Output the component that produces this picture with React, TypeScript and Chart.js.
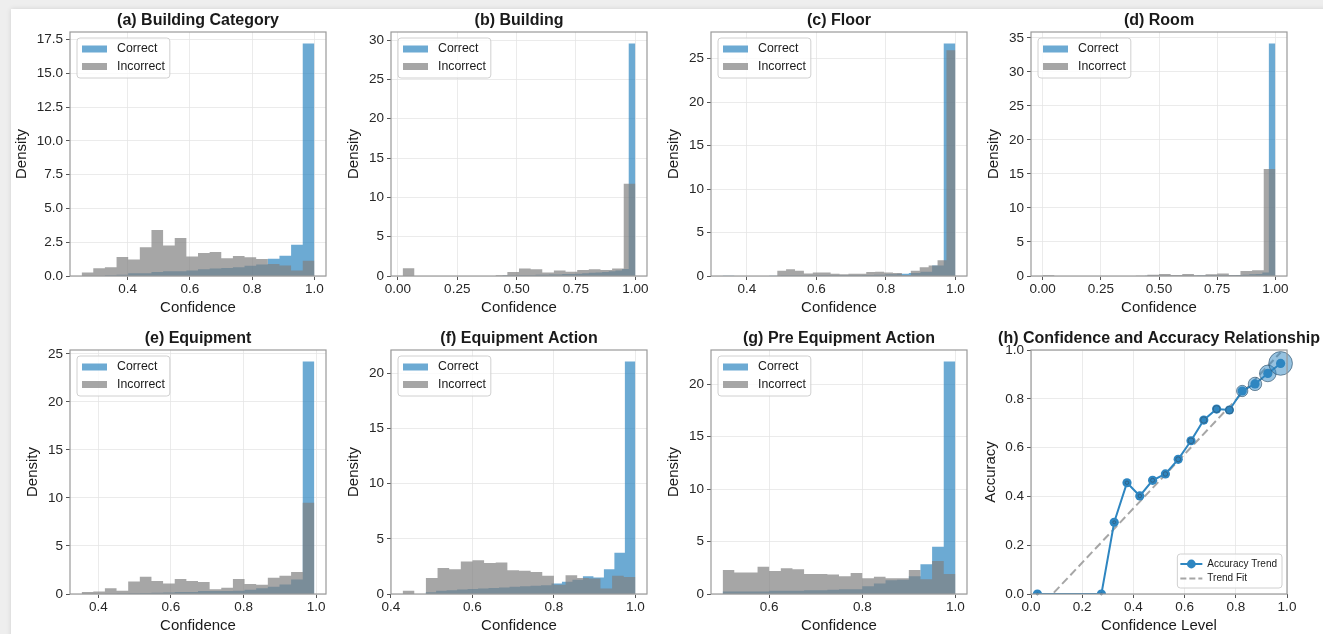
import React, { useEffect, useRef } from 'react';
import { Chart, registerables } from 'chart.js';

Chart.register(...registerables);

const FONT = '"Liberation Sans", Arial, Helvetica, sans-serif';
const TEXT = '#1a1a1a';
const BLUE = 'rgba(46,134,193,0.7)';
const GRAY = 'rgba(128,128,128,0.7)';
const LINE_BLUE = '#2E86C1';

// ---------- (a) Building Category ----------
const aCorrectRange = [0.252, 1.0];
const aCorrect = [0, 0, 0.05, 0.1, 0.2, 0.2, 0.3, 0.35, 0.35, 0.4, 0.5, 0.55, 0.6, 0.65, 0.75, 0.85, 1.28, 1.5, 2.32, 17.2];
const aIncorrectRange = [0.252, 1.0];
const aIncorrect = [0.25, 0.58, 0.65, 1.4, 1.22, 2.12, 3.4, 2.25, 2.82, 1.45, 1.7, 1.78, 1.32, 1.48, 1.38, 1.25, 0.88, 0.78, 0.4, 1.12];

// ---------- (b) Building ----------
const bCorrectRange = [0.44, 1.0];
const bCorrect = [0.05, 0.05, 0.1, 0.1, 0.1, 0.15, 0.15, 0.2, 0.2, 0.25, 0.25, 0.3, 0.35, 0.4, 0.45, 0.5, 0.6, 0.7, 0.9, 29.55];
const bIncorrectRange = [0.02, 1.0];
const bIncorrect = [1.0, 0, 0, 0, 0, 0, 0, 0, 0.1, 0.5, 0.95, 0.85, 0.45, 0.7, 0.55, 0.75, 0.85, 0.75, 0.95, 11.73];

// ---------- (c) Floor ----------
const cCorrectRange = [0.33, 1.0];
const cCorrect = [0.02, 0, 0, 0, 0.02, 0.05, 0.05, 0.05, 0.08, 0.08, 0.1, 0.1, 0.12, 0.15, 0.2, 0.25, 0.35, 0.5, 1.2, 26.72];
const cIncorrectRange = [0.487, 1.0];
const cIncorrect = [0.6, 0.77, 0.6, 0.3, 0.4, 0.4, 0.25, 0.2, 0.25, 0.25, 0.45, 0.5, 0.4, 0.35, 0.1, 0.6, 1.0, 1.2, 1.8, 25.95];

// ---------- (d) Room ----------
const dCorrectRange = [0.44, 1.0];
const dCorrect = [0.02, 0.02, 0.03, 0.03, 0.05, 0.05, 0.05, 0.05, 0.08, 0.08, 0.1, 0.1, 0.1, 0.12, 0.15, 0.2, 0.25, 0.3, 0.5, 34.17];
const dIncorrectRange = [0.0, 1.0];
const dIncorrect = [0.1, 0, 0, 0, 0, 0, 0, 0, 0.05, 0.2, 0.3, 0.15, 0.3, 0.1, 0.25, 0.35, 0.15, 0.75, 0.85, 15.73];

// ---------- (e) Equipment ----------
const eCorrectRange = [0.354, 0.995];
const eCorrect = [0, 0, 0.02, 0.05, 0.08, 0.1, 0.12, 0.15, 0.2, 0.2, 0.3, 0.3, 0.3, 0.35, 0.45, 0.6, 0.75, 1.0, 1.5, 24.19];
const eIncorrectRange = [0.354, 0.995];
const eIncorrect = [0.2, 0.25, 0.6, 0.35, 1.3, 1.8, 1.35, 1.1, 1.55, 1.35, 1.25, 0.5, 0.65, 1.55, 1.05, 0.95, 1.7, 1.9, 2.3, 9.5];

// ---------- (f) Equipment Action ----------
const fCorrectRange = [0.485, 1.0];
const fCorrect = [0.15, 0.3, 0.35, 0.4, 0.45, 0.5, 0.55, 0.6, 0.65, 0.7, 0.75, 0.8, 0.95, 1.1, 1.3, 1.6, 1.5, 2.25, 3.75, 21.07];
const fIncorrectRange = [0.4286, 1.0];
const fIncorrect = [0.3, 0, 1.45, 2.35, 2.25, 2.95, 3.05, 2.8, 2.85, 2.15, 2.1, 2.0, 1.65, 0.85, 1.7, 1.45, 1.4, 0.5, 1.65, 1.55];

// ---------- (g) Pre Equipment Action ----------
const gCorrectRange = [0.5, 1.0];
const gCorrect = [0.25, 0.25, 0.25, 0.25, 0.3, 0.3, 0.3, 0.35, 0.35, 0.4, 0.45, 0.45, 0.75, 1.0, 1.3, 1.35, 1.7, 2.85, 4.5, 22.17];
const gIncorrectRange = [0.5, 1.0];
const gIncorrect = [2.3, 2.05, 2.05, 2.6, 2.2, 2.45, 2.35, 1.9, 1.9, 1.85, 1.7, 2.0, 1.5, 1.65, 1.5, 1.5, 2.3, 1.4, 3.15, 1.9];

// ---------- (h) Confidence and Accuracy Relationship ----------
const hConfidence = [0.025, 0.275, 0.325, 0.375, 0.425, 0.475, 0.525, 0.575, 0.625, 0.675, 0.725, 0.775, 0.825, 0.875, 0.925, 0.975];
const hAccuracy = [0.0, 0.0, 0.294, 0.456, 0.402, 0.466, 0.492, 0.552, 0.628, 0.713, 0.758, 0.754, 0.832, 0.861, 0.904, 0.945];
const hCounts = [1, 1, 2, 3, 3, 4, 5, 6, 8, 10, 12, 14, 32, 45, 69, 140];
const hTrendX = [0.025, 0.975];
const hTrendY = [-0.066, 0.99];

// ---------- tick labels ----------
const ticks01 = [0.4, 0.6, 0.8, 1.0];
const ticksQuarter = [0, 0.25, 0.5, 0.75, 1.0];
const ticksG = [0.6, 0.8, 1.0];
const ticksFifth = [0, 0.2, 0.4, 0.6, 0.8, 1.0];
const yTicksA = [0, 2.5, 5, 7.5, 10, 12.5, 15, 17.5];
const yTicksB = [0, 5, 10, 15, 20, 25, 30];
const yTicksC = [0, 5, 10, 15, 20, 25];
const yTicksD = [0, 5, 10, 15, 20, 25, 30, 35];
const yTicksE = [0, 5, 10, 15, 20, 25];
const yTicksF = [0, 5, 10, 15, 20];
const yTicksG = [0, 5, 10, 15, 20];

// ---------- layout ----------
const COL_LEFT = [70, 391, 711, 1031];
const ROW_TOP = [32, 350];
const PW = 256;
const PH = 244;
const Y_AXIS_W = 60;
const X_AXIS_H = 44;
const PAD_L = 4;
const PAD_TOP = 32;
const PAD_BOTTOM = 2;

const mctx = document.createElement('canvas').getContext('2d') as CanvasRenderingContext2D;
function textWidth(t: string, font: string) {
  mctx.font = font;
  return mctx.measureText(t).width;
}

const TICK_SIZE = 13.5;
const tickFont = { family: FONT, size: TICK_SIZE };

function stepPoints(range: number[], heights: number[]) {
  const n = heights.length;
  const w = (range[1] - range[0]) / n;
  const pts = heights.map((h, i) => ({ x: range[0] + i * w, y: h }));
  pts.push({ x: range[1], y: heights[n - 1] });
  return pts;
}

function yTitlePad(labels: string[]) {
  const maxW = Math.max(...labels.map((l) => textWidth(l, `${TICK_SIZE}px ${FONT}`)));
  return Math.max(0, Y_AXIS_W - 9 - (7 + maxW + 14.7));
}

function roundRect(ctx: CanvasRenderingContext2D, x: number, y: number, w: number, h: number, r: number) {
  ctx.beginPath();
  ctx.moveTo(x + r, y);
  ctx.lineTo(x + w - r, y);
  ctx.arcTo(x + w, y, x + w, y + r, r);
  ctx.lineTo(x + w, y + h - r);
  ctx.arcTo(x + w, y + h, x + w - r, y + h, r);
  ctx.lineTo(x + r, y + h);
  ctx.arcTo(x, y + h, x, y + h - r, r);
  ctx.lineTo(x, y + r);
  ctx.arcTo(x, y, x + r, y, r);
  ctx.closePath();
}

function makeDecor(title: string, kind: 'hist' | 'acc') {
  return {
    id: 'decor',
    afterDatasetsDraw(chart: any) {
      const ctx: CanvasRenderingContext2D = chart.ctx;
      const a = chart.chartArea;
      ctx.save();
      ctx.strokeStyle = '#9a9a9a';
      ctx.lineWidth = 1.2;
      ctx.setLineDash([]);
      ctx.strokeRect(a.left, a.top, a.right - a.left, a.bottom - a.top);

      if (kind === 'hist') {
        ctx.font = `12.3px ${FONT}`;
        const tw = Math.max(ctx.measureText('Correct').width, ctx.measureText('Incorrect').width);
        const bx = a.left + 7;
        const by = a.top + 6;
        const bw = 40 + tw + 5;
        const bh = 40;
        roundRect(ctx, bx, by, bw, bh, 3);
        ctx.fillStyle = 'rgba(255,255,255,0.8)';
        ctx.fill();
        ctx.strokeStyle = '#d0d0d0';
        ctx.lineWidth = 1;
        ctx.stroke();
        const rows = [
          { label: 'Correct', color: BLUE, cy: by + 11 },
          { label: 'Incorrect', color: GRAY, cy: by + 28.5 },
        ];
        rows.forEach((r) => {
          ctx.fillStyle = r.color;
          ctx.fillRect(bx + 5, r.cy - 3.5, 25, 7);
          ctx.fillStyle = TEXT;
          ctx.textAlign = 'left';
          ctx.textBaseline = 'middle';
          ctx.fillText(r.label, bx + 40, r.cy);
        });
      } else {
        ctx.font = `10px ${FONT}`;
        const tw = Math.max(ctx.measureText('Accuracy Trend').width, ctx.measureText('Trend Fit').width);
        const bw = 30 + tw + 5;
        const bh = 34;
        const bx = a.right - 5 - bw;
        const by = a.bottom - 6 - bh;
        roundRect(ctx, bx, by, bw, bh, 3);
        ctx.fillStyle = 'rgba(255,255,255,0.8)';
        ctx.fill();
        ctx.strokeStyle = '#d0d0d0';
        ctx.lineWidth = 1;
        ctx.stroke();
        const r1 = by + 10;
        const r2 = by + 24.5;
        ctx.strokeStyle = LINE_BLUE;
        ctx.lineWidth = 2;
        ctx.beginPath();
        ctx.moveTo(bx + 3, r1);
        ctx.lineTo(bx + 25, r1);
        ctx.stroke();
        ctx.fillStyle = LINE_BLUE;
        ctx.beginPath();
        ctx.arc(bx + 14, r1, 4.4, 0, Math.PI * 2);
        ctx.fill();
        ctx.strokeStyle = 'rgba(150,150,150,0.85)';
        ctx.setLineDash([6, 3]);
        ctx.beginPath();
        ctx.moveTo(bx + 3, r2);
        ctx.lineTo(bx + 25, r2);
        ctx.stroke();
        ctx.setLineDash([]);
        ctx.fillStyle = TEXT;
        ctx.textAlign = 'left';
        ctx.textBaseline = 'middle';
        ctx.fillText('Accuracy Trend', bx + 30, r1);
        ctx.fillText('Trend Fit', bx + 30, r2);
      }

      ctx.fillStyle = TEXT;
      ctx.font = `bold 16px ${FONT}`;
      ctx.textAlign = 'center';
      ctx.textBaseline = 'middle';
      ctx.fillText(title, (a.left + a.right) / 2, a.top - 11);
      ctx.restore();
    },
  };
}

function axisCommon(ticksList: number[], dec: number, min: number, max: number, isX: boolean, titleText: string, titlePad: number) {
  return {
    type: 'linear',
    min,
    max,
    offset: false,
    afterBuildTicks: (s: any) => {
      s.ticks = ticksList.map((v) => ({ value: v }));
    },
    afterFit: (s: any) => {
      if (isX) s.height = X_AXIS_H;
      else s.width = Y_AXIS_W;
    },
    ticks: {
      autoSkip: false,
      maxRotation: 0,
      minRotation: 0,
      padding: isX ? 1 : 3,
      color: '#262626',
      font: tickFont,
      callback: (v: any) => Number(v).toFixed(dec),
    },
    grid: {
      color: '#e6e6e6',
      lineWidth: 0.8,
      drawTicks: true,
      tickLength: 4,
      tickColor: '#555',
      tickWidth: 1,
    },
    border: { display: false },
    title: {
      display: true,
      text: titleText,
      color: TEXT,
      font: { family: FONT, size: 15 },
      padding: isX ? { top: 0, bottom: 3 } : { top: titlePad, bottom: 0 },
    },
  };
}

type HistPanel = {
  title: string;
  col: number;
  row: number;
  correctRange: number[];
  correct: number[];
  incorrectRange: number[];
  incorrect: number[];
  xTicks: number[];
  xDec: number;
  yTicks: number[];
  yDec: number;
};

const histPanels: HistPanel[] = [
  { title: '(a) Building Category', col: 0, row: 0, correctRange: aCorrectRange, correct: aCorrect, incorrectRange: aIncorrectRange, incorrect: aIncorrect, xTicks: ticks01, xDec: 1, yTicks: yTicksA, yDec: 1 },
  { title: '(b) Building', col: 1, row: 0, correctRange: bCorrectRange, correct: bCorrect, incorrectRange: bIncorrectRange, incorrect: bIncorrect, xTicks: ticksQuarter, xDec: 2, yTicks: yTicksB, yDec: 0 },
  { title: '(c) Floor', col: 2, row: 0, correctRange: cCorrectRange, correct: cCorrect, incorrectRange: cIncorrectRange, incorrect: cIncorrect, xTicks: ticks01, xDec: 1, yTicks: yTicksC, yDec: 0 },
  { title: '(d) Room', col: 3, row: 0, correctRange: dCorrectRange, correct: dCorrect, incorrectRange: dIncorrectRange, incorrect: dIncorrect, xTicks: ticksQuarter, xDec: 2, yTicks: yTicksD, yDec: 0 },
  { title: '(e) Equipment', col: 0, row: 1, correctRange: eCorrectRange, correct: eCorrect, incorrectRange: eIncorrectRange, incorrect: eIncorrect, xTicks: ticks01, xDec: 1, yTicks: yTicksE, yDec: 0 },
  { title: '(f) Equipment Action', col: 1, row: 1, correctRange: fCorrectRange, correct: fCorrect, incorrectRange: fIncorrectRange, incorrect: fIncorrect, xTicks: ticks01, xDec: 1, yTicks: yTicksF, yDec: 0 },
  { title: '(g) Pre Equipment Action', col: 2, row: 1, correctRange: gCorrectRange, correct: gCorrect, incorrectRange: gIncorrectRange, incorrect: gIncorrect, xTicks: ticksG, xDec: 1, yTicks: yTicksG, yDec: 0 },
];

function histConfig(p: HistPanel) {
  const lo = Math.min(p.correctRange[0], p.incorrectRange[0]);
  const hi = Math.max(p.correctRange[1], p.incorrectRange[1]);
  const R = hi - lo;
  const xmin = lo - 0.05 * R;
  const xmax = hi + 0.05 * R;
  const ymax = Math.max(...p.correct, ...p.incorrect) * 1.05;
  const yLabels = p.yTicks.map((v) => v.toFixed(p.yDec));
  return {
    type: 'line',
    data: {
      datasets: [
        {
          label: 'Incorrect',
          data: stepPoints(p.incorrectRange, p.incorrect),
          stepped: 'before',
          fill: 'origin',
          backgroundColor: GRAY,
          borderColor: 'rgba(0,0,0,0)',
          borderWidth: 0,
          pointRadius: 0,
          order: 0,
        },
        {
          label: 'Correct',
          data: stepPoints(p.correctRange, p.correct),
          stepped: 'before',
          fill: 'origin',
          backgroundColor: BLUE,
          borderColor: 'rgba(0,0,0,0)',
          borderWidth: 0,
          pointRadius: 0,
          order: 1,
        },
      ],
    },
    options: {
      animation: false,
      responsive: false,
      events: [],
      layout: { padding: { left: PAD_L, right: 8, top: PAD_TOP, bottom: PAD_BOTTOM } },
      plugins: { legend: { display: false }, tooltip: { enabled: false }, title: { display: false } },
      scales: {
        x: axisCommon(p.xTicks, p.xDec, xmin, xmax, true, 'Confidence', 0),
        y: axisCommon(p.yTicks, p.yDec, 0, ymax, false, 'Density', yTitlePad(yLabels)),
      },
    },
    plugins: [makeDecor(p.title, 'hist')],
  };
}

function accConfig() {
  const yLabels = ticksFifth.map((v) => v.toFixed(1));
  return {
    type: 'line',
    data: {
      datasets: [
        {
          type: 'bubble',
          label: 'Samples',
          data: hConfidence.map((x, i) => ({ x, y: hAccuracy[i], r: Math.sqrt(hCounts[i]) })),
          backgroundColor: 'rgba(46,134,193,0.5)',
          borderColor: 'rgba(50,85,110,0.65)',
          borderWidth: 1,
          clip: false,
          order: 0,
        },
        {
          type: 'line',
          label: 'Accuracy Trend',
          data: hConfidence.map((x, i) => ({ x, y: hAccuracy[i] })),
          borderColor: LINE_BLUE,
          borderWidth: 2,
          pointRadius: 4.6,
          pointBackgroundColor: LINE_BLUE,
          pointBorderWidth: 0,
          tension: 0,
          fill: false,
          order: 1,
        },
        {
          type: 'line',
          label: 'Trend Fit',
          data: hTrendX.map((x, i) => ({ x, y: hTrendY[i] })),
          borderColor: 'rgba(150,150,150,0.85)',
          borderWidth: 2,
          borderDash: [8, 4],
          pointRadius: 0,
          fill: false,
          order: 2,
        },
      ],
    },
    options: {
      animation: false,
      responsive: false,
      events: [],
      layout: { padding: { left: PAD_L, right: 1323 - (COL_LEFT[3] + PW), top: PAD_TOP, bottom: PAD_BOTTOM } },
      plugins: { legend: { display: false }, tooltip: { enabled: false }, title: { display: false } },
      scales: {
        x: axisCommon(ticksFifth, 1, 0, 1, true, 'Confidence Level', 0),
        y: axisCommon(ticksFifth, 1, 0, 1, false, 'Accuracy', yTitlePad(yLabels)),
      },
    },
    plugins: [makeDecor('(h) Confidence and Accuracy Relationship', 'acc')],
  };
}

function Panel({ col, row, rightPad, build }: { col: number; row: number; rightPad: number; build: () => any }) {
  const ref = useRef<HTMLCanvasElement>(null);
  const left = COL_LEFT[col] - Y_AXIS_W - PAD_L;
  const top = ROW_TOP[row] - PAD_TOP;
  const w = PAD_L + Y_AXIS_W + PW + rightPad;
  const h = PAD_TOP + PH + X_AXIS_H + PAD_BOTTOM;
  useEffect(() => {
    if (!ref.current) return;
    const chart = new Chart(ref.current, build());
    return () => chart.destroy();
  }, []);
  return (
    <canvas
      ref={ref}
      width={w}
      height={h}
      style={{ position: 'absolute', left, top, width: w, height: h }}
    />
  );
}

export default function App() {
  return (
    <div style={{ position: 'fixed', left: 0, top: 0, width: 1323, height: 634, background: '#eeeeee', overflow: 'hidden' }}>
      <div style={{ position: 'absolute', left: 11, top: 9, right: -10, bottom: -10, background: '#ffffff', boxShadow: '0 0 5px rgba(0,0,0,0.12)' }} />
      {histPanels.map((p) => (
        <Panel key={p.title} col={p.col} row={p.row} rightPad={8} build={() => histConfig(p)} />
      ))}
      <Panel col={3} row={1} rightPad={1323 - (COL_LEFT[3] + PW)} build={accConfig} />
    </div>
  );
}
